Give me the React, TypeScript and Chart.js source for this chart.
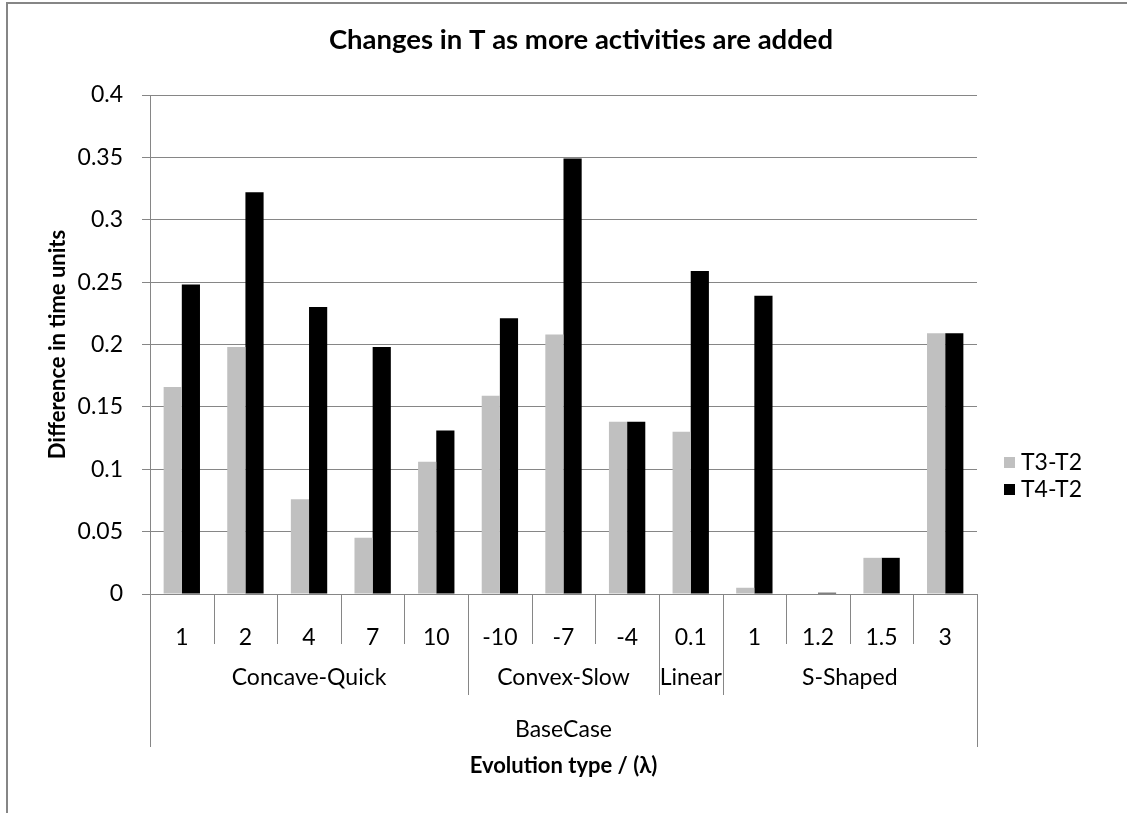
import React, { useEffect, useRef } from "react";
import { Chart, registerables } from "chart.js";

Chart.register(...registerables);

// ---- data ----
const categories = ["1", "2", "4", "7", "10", "-10", "-7", "-4", "0.1", "1", "1.2", "1.5", "3"];
const groupNames = ["Concave-Quick", "Convex-Slow", "Linear", "S-Shaped"];
const groupSizes = [5, 3, 1, 4];
const topGroupName = "BaseCase";
const seriesNames = ["T3-T2", "T4-T2"];
const t3MinusT2 = [0.166, 0.198, 0.076, 0.045, 0.106, 0.159, 0.208, 0.138, 0.130, 0.005, 0.0, 0.029, 0.209];
const t4MinusT2 = [0.248, 0.322, 0.230, 0.198, 0.131, 0.221, 0.349, 0.138, 0.259, 0.239, 0.001, 0.029, 0.209];
const yTickLabels = ["0", "0.05", "0.1", "0.15", "0.2", "0.25", "0.3", "0.35", "0.4"];
const chartTitle = "Changes in T as more activities are added";
const yAxisTitle = "Difference in time units";
const xAxisTitle = "Evolution type / (λ)";

const seriesColors = ["#C0C0C0", "#000000"];
const FONT = "Lato, 'Open Sans', sans-serif";
const GRID = "#868686";
const LABEL_SIZE = 23;

const decorPlugin = {
  id: "excelDecor",
  beforeDraw(chart: any) {
    const ctx = chart.ctx;
    ctx.save();
    ctx.fillStyle = "#ffffff";
    ctx.fillRect(0, 0, chart.width, chart.height);
    // outer frame (left + top visible)
    ctx.strokeStyle = GRID;
    ctx.lineWidth = 2;
    ctx.beginPath();
    ctx.moveTo(7, chart.height);
    ctx.lineTo(7, 3);
    ctx.lineTo(chart.width, 3);
    ctx.stroke();
    ctx.restore();
  },
  afterDraw(chart: any) {
    const ctx = chart.ctx;
    const xs = chart.scales.x;
    const ca = chart.chartArea;
    const n = categories.length;
    const edge = (i: number) =>
      i === 0 ? ca.left : i === n ? ca.right : (xs.getPixelForValue(i - 1) + xs.getPixelForValue(i)) / 2;

    ctx.save();
    ctx.strokeStyle = GRID;
    ctx.lineWidth = 1;
    const groupEdges = new Set<number>();
    let acc = 0;
    groupSizes.forEach((s) => {
      acc += s;
      groupEdges.add(acc);
    });
    for (let i = 0; i <= n; i++) {
      let bottom = ca.bottom + 50;
      if (i === 0 || i === n) bottom = ca.bottom + 153;
      else if (groupEdges.has(i)) bottom = ca.bottom + 101;
      const x = Math.round(edge(i)) + 0.5;
      ctx.beginPath();
      ctx.moveTo(x, ca.bottom);
      ctx.lineTo(x, bottom);
      ctx.stroke();
    }

    ctx.fillStyle = "#000";
    ctx.textAlign = "center";
    ctx.textBaseline = "middle";
    ctx.font = `${LABEL_SIZE}px ${FONT}`;
    let start = 0;
    groupNames.forEach((g, gi) => {
      const end = start + groupSizes[gi];
      const cx = (edge(start) + edge(end)) / 2;
      ctx.fillText(g, cx, ca.bottom + 84);
      start = end;
    });
    ctx.fillText(topGroupName, (ca.left + ca.right) / 2, ca.bottom + 136);

    // axis titles
    ctx.font = `bold 22px ${FONT}`;
    ctx.fillText(xAxisTitle, (ca.left + ca.right) / 2, ca.bottom + 172);
    ctx.save();
    ctx.translate(58, (ca.top + ca.bottom) / 2);
    ctx.rotate(-Math.PI / 2);
    ctx.fillText(yAxisTitle, 0, 0);
    ctx.restore();

    // chart title
    ctx.font = `bold 27.5px ${FONT}`;
    ctx.fillText(chartTitle, 581, 40);

    // legend
    ctx.font = `${LABEL_SIZE}px ${FONT}`;
    ctx.textAlign = "left";
    const legendY = [462, 489];
    seriesNames.forEach((s, i) => {
      ctx.fillStyle = seriesColors[i];
      ctx.fillRect(1004, legendY[i] - 5, 11, 11);
      ctx.fillStyle = "#000";
      ctx.fillText(s, 1021, legendY[i] + 1);
    });
    ctx.restore();
  },
};

export default function App() {
  const ref = useRef<HTMLCanvasElement | null>(null);
  useEffect(() => {
    if (!ref.current) return;
    const chart = new Chart(ref.current, {
      type: "bar",
      data: {
        labels: categories,
        datasets: [
          { label: seriesNames[0], data: t3MinusT2, backgroundColor: seriesColors[0], borderWidth: 0 },
          { label: seriesNames[1], data: t4MinusT2, backgroundColor: seriesColors[1], borderWidth: 0 },
        ],
      },
      options: {
        responsive: false,
        animation: false,
        events: [],
        layout: { padding: { top: 95, right: 150, left: 0, bottom: 0 } },
        datasets: { bar: { categoryPercentage: 2 / 3.5, barPercentage: 1 } },
        plugins: { legend: { display: false }, title: { display: false }, tooltip: { enabled: false } },
        scales: {
          x: {
            grid: { display: false, offset: true },
            border: { display: true, color: GRID, width: 1 },
            ticks: { color: "#000", font: { family: FONT, size: LABEL_SIZE }, padding: 22, maxRotation: 0, autoSkip: false },
            afterFit: (s: any) => {
              s.height = 219;
            },
          },
          y: {
            min: 0,
            max: 0.4,
            grid: { color: GRID, lineWidth: 1, tickLength: 8, drawTicks: true },
            border: { display: true, color: GRID, width: 1 },
            ticks: {
              stepSize: 0.05,
              color: "#000",
              font: { family: FONT, size: LABEL_SIZE },
              padding: 19,
              callback: (_v: any, i: number) => yTickLabels[i],
            },
            afterFit: (s: any) => {
              s.width = 150;
            },
          },
        },
      },
      plugins: [decorPlugin],
    });
    return () => chart.destroy();
  }, []);
  return (
    <div style={{ position: "absolute", left: 0, top: 0, width: 1127, height: 813 }}>
      <canvas ref={ref} width={1127} height={813} />
    </div>
  );
}
